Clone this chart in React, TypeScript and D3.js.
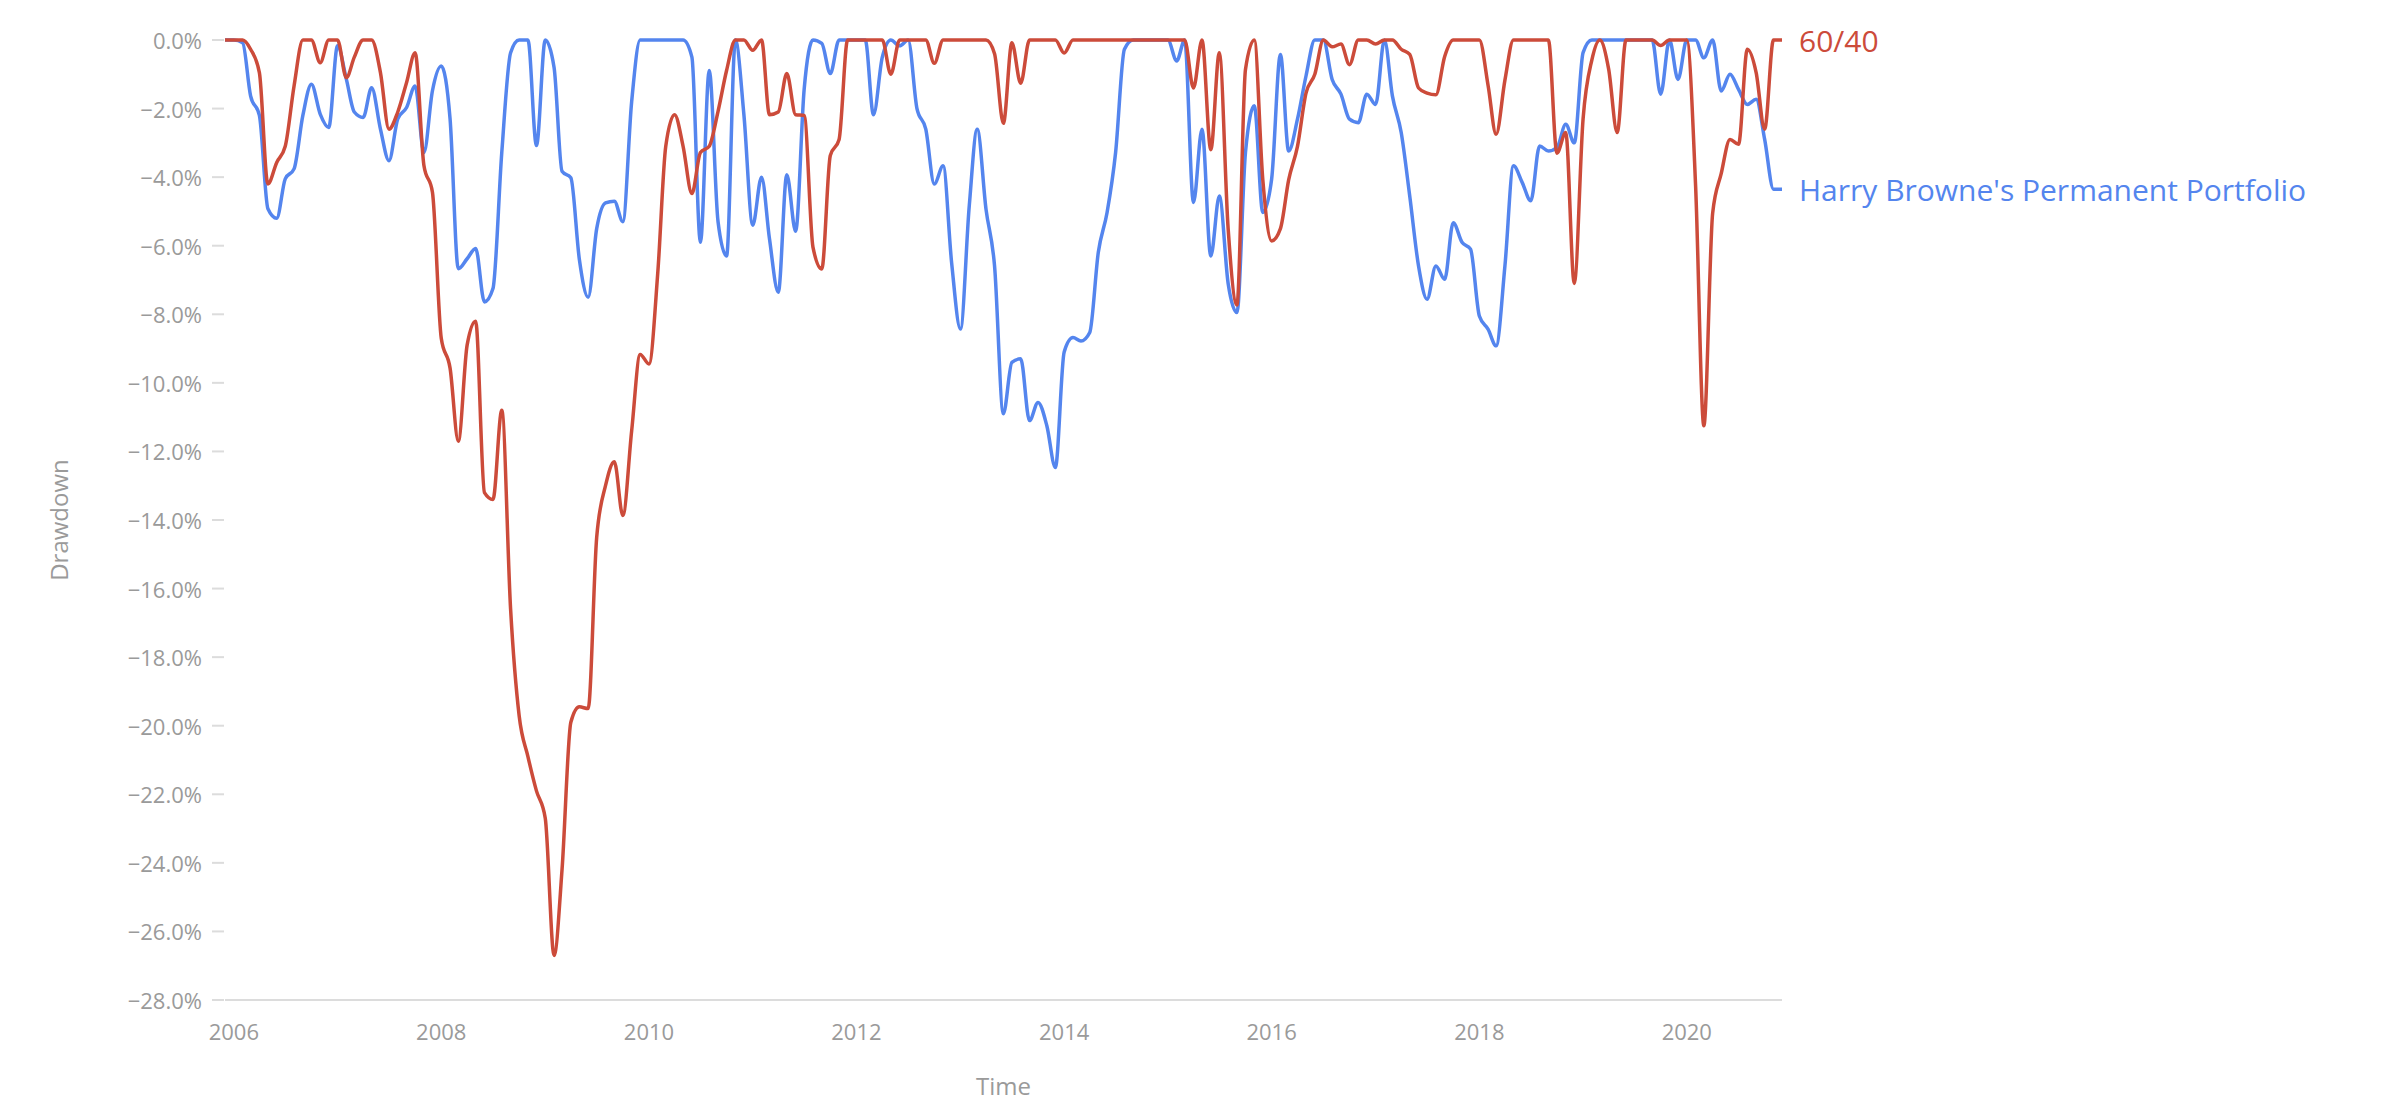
import React from "react";
import * as d3 from "d3";

// Monthly drawdown (%) from Dec 2005 through Dec 2020
const startYear = 2005;
const startMonth = 11; // December (0-based)

const permanentPortfolio: number[] = [
  0, 0, -0.08, -1.63, -2.2, -4.92, -5.2, -4.05, -3.76, -2.2,
  -1.29, -2.16, -2.55, -0.17, -1.14, -2.1, -2.26, -1.39, -2.6, -3.52,
  -2.3, -1.97, -1.34, -3.28, -1.48, -0.76, -2.3, -6.67, -6.38, -6.08,
  -7.64, -7.25, -3.28, -0.37, 0, 0, -3.08, 0, -0.8, -3.83,
  -4.02, -6.4, -7.5, -5.5, -4.75, -4.7, -5.3, -1.8, 0, 0,
  0, 0, 0, 0, -0.5, -5.9, -0.89, -5.3, -6.3, 0,
  -2.18, -5.4, -4.0, -5.8, -7.36, -3.93, -5.58, -1.44, 0, -0.1,
  -0.98, 0, 0, 0, 0, -2.18, -0.5, 0, -0.17, 0,
  -2.0, -2.6, -4.2, -3.67, -6.5, -8.43, -4.84, -2.6, -4.94, -6.59,
  -10.9, -9.4, -9.3, -11.1, -10.57, -11.25, -12.47, -9.1, -8.68, -8.78,
  -8.53, -6.2, -5.03, -3.28, -0.27, 0, 0, 0, 0, 0,
  -0.61, 0, -4.74, -2.6, -6.3, -4.55, -7.1, -7.95, -3.28, -1.92,
  -5.03, -4.06, -0.42, -3.24, -2.31, -1.05, 0, 0, -1.15, -1.58,
  -2.31, -2.41, -1.58, -1.88, 0, -1.63, -2.7, -4.55, -6.59, -7.56,
  -6.59, -6.98, -5.33, -5.9, -6.1, -8.05, -8.44, -8.92, -6.59, -3.67,
  -4.16, -4.69, -3.09, -3.24, -3.14, -2.46, -3.0, -0.37, 0, 0,
  0, 0, 0, 0, 0, 0, -1.58, 0, -1.15, 0,
  0, -0.52, 0, -1.49, -1.0, -1.44, -1.88, -1.73, -2.9, -4.35,
  -4.35,
];

const sixtyForty: number[] = [
  0, 0, 0, -0.27, -0.95, -4.2, -3.57, -3.1, -1.34, 0,
  0, -0.66, 0, 0, -1.1, -0.5, 0, 0, -0.95, -2.6,
  -2.1, -1.24, -0.37, -3.66, -4.44, -8.7, -9.57, -11.7, -8.9, -8.2,
  -13.2, -13.4, -10.8, -16.6, -19.7, -20.9, -21.9, -22.7, -26.7, -24.2,
  -19.9, -19.45, -19.5, -14.5, -13.0, -12.3, -13.87, -11.4, -9.17, -9.45,
  -6.78, -3.1, -2.18, -3.1, -4.48, -3.28, -3.1, -2.08, -0.89, 0,
  0, -0.3, 0, -2.18, -2.1, -0.98, -2.18, -2.2, -6.04, -6.68,
  -3.37, -2.9, 0, 0, 0, 0, 0, -1.0, 0, 0,
  0, 0, -0.68, 0, 0, 0, 0, 0, 0, -0.4,
  -2.43, -0.08, -1.26, 0, 0, 0, 0, -0.38, 0, 0,
  0, 0, 0, 0, 0, 0, 0, 0, 0, 0,
  0, 0, -1.4, 0, -3.2, -0.37, -5.5, -7.73, -0.86, 0,
  -4.08, -5.86, -5.5, -4.08, -3.1, -1.55, -1.0, 0, -0.2, -0.12,
  -0.72, 0, 0, -0.12, 0, 0, -0.27, -0.42, -1.4, -1.55,
  -1.6, -0.48, 0, 0, 0, 0, -1.34, -2.75, -1.17, 0,
  0, 0, 0, 0, -3.3, -2.7, -7.1, -2.3, -0.58, 0,
  -0.85, -2.7, 0, 0, 0, 0, -0.16, 0, 0, 0,
  -4.26, -11.25, -5.05, -3.9, -2.9, -3.04, -0.27, -0.95, -2.6, 0,
  0,
];

const yTicks: number[] = [0, -2, -4, -6, -8, -10, -12, -14, -16, -18, -20, -22, -24, -26, -28];
const xTickYears: number[] = [2006, 2008, 2010, 2012, 2014, 2016, 2018, 2020];

const seriesNames = ["60/40", "Harry Browne's Permanent Portfolio"];

const W = 2388;
const H = 1117;
const left = 225;
const right = 1782;
const top = 40;
const bottom = 1000;

const RED = "#CC4B3A";
const BLUE = "#5485EE";
const GRAY = "#9a9a9a";
const FONT = "'Open Sans', Lato, sans-serif";

const dates = permanentPortfolio.map((_, i) => new Date(startYear, startMonth + i, 1));

export default function App() {
  const x = d3.scaleTime().domain([dates[0], dates[dates.length - 1]]).range([left, right]);
  const y = d3.scaleLinear().domain([-28, 0]).range([bottom, top]);
  const line = d3
    .line<number>()
    .x((_, i) => x(dates[i]))
    .y((d) => y(d))
    .curve(d3.curveMonotoneX);
  const fmt = (v: number) => d3.format(".1f")(v) + "%";

  const lastRed = sixtyForty[sixtyForty.length - 1];
  const lastBlue = permanentPortfolio[permanentPortfolio.length - 1];

  return (
    <svg
      width={W}
      height={H}
      style={{ position: "absolute", left: 0, top: 0, background: "#fff" }}
      fontFamily={FONT}
    >
      {/* baseline */}
      <line x1={left} x2={right} y1={bottom} y2={bottom} stroke="#dcdcdc" strokeWidth={2} />
      {/* y ticks */}
      {yTicks.map((t) => (
        <g key={t}>
          <line x1={212} x2={224} y1={y(t)} y2={y(t)} stroke="#dcdcdc" strokeWidth={2} />
          <text x={202} y={y(t)} textAnchor="end" dominantBaseline="central" fontSize={22} fill={GRAY}>
            {fmt(t)}
          </text>
        </g>
      ))}
      {/* x ticks */}
      {xTickYears.map((yr) => (
        <text
          key={yr}
          x={x(new Date(yr, 0, 1))}
          y={1031}
          textAnchor="middle"
          dominantBaseline="central"
          fontSize={22}
          fill={GRAY}
        >
          {yr}
        </text>
      ))}
      {/* axis titles */}
      <text x={(left + right) / 2} y={1085} textAnchor="middle" dominantBaseline="central" fontSize={24} fill={GRAY}>
        Time
      </text>
      <text
        transform={`translate(58, ${(top + bottom) / 2}) rotate(-90)`}
        textAnchor="middle"
        dominantBaseline="central"
        fontSize={24}
        fill={GRAY}
      >
        Drawdown
      </text>
      {/* series */}
      <path d={line(permanentPortfolio) || ""} fill="none" stroke={BLUE} strokeWidth={3.5} strokeLinejoin="round" />
      <path d={line(sixtyForty) || ""} fill="none" stroke={RED} strokeWidth={3.5} strokeLinejoin="round" />
      {/* end labels */}
      <text x={right + 17} y={y(lastRed)} dominantBaseline="central" fontSize={30} fill={RED}>
        {seriesNames[0]}
      </text>
      <text x={right + 17} y={y(lastBlue)} dominantBaseline="central" fontSize={30} fill={BLUE}>
        {seriesNames[1]}
      </text>
    </svg>
  );
}
